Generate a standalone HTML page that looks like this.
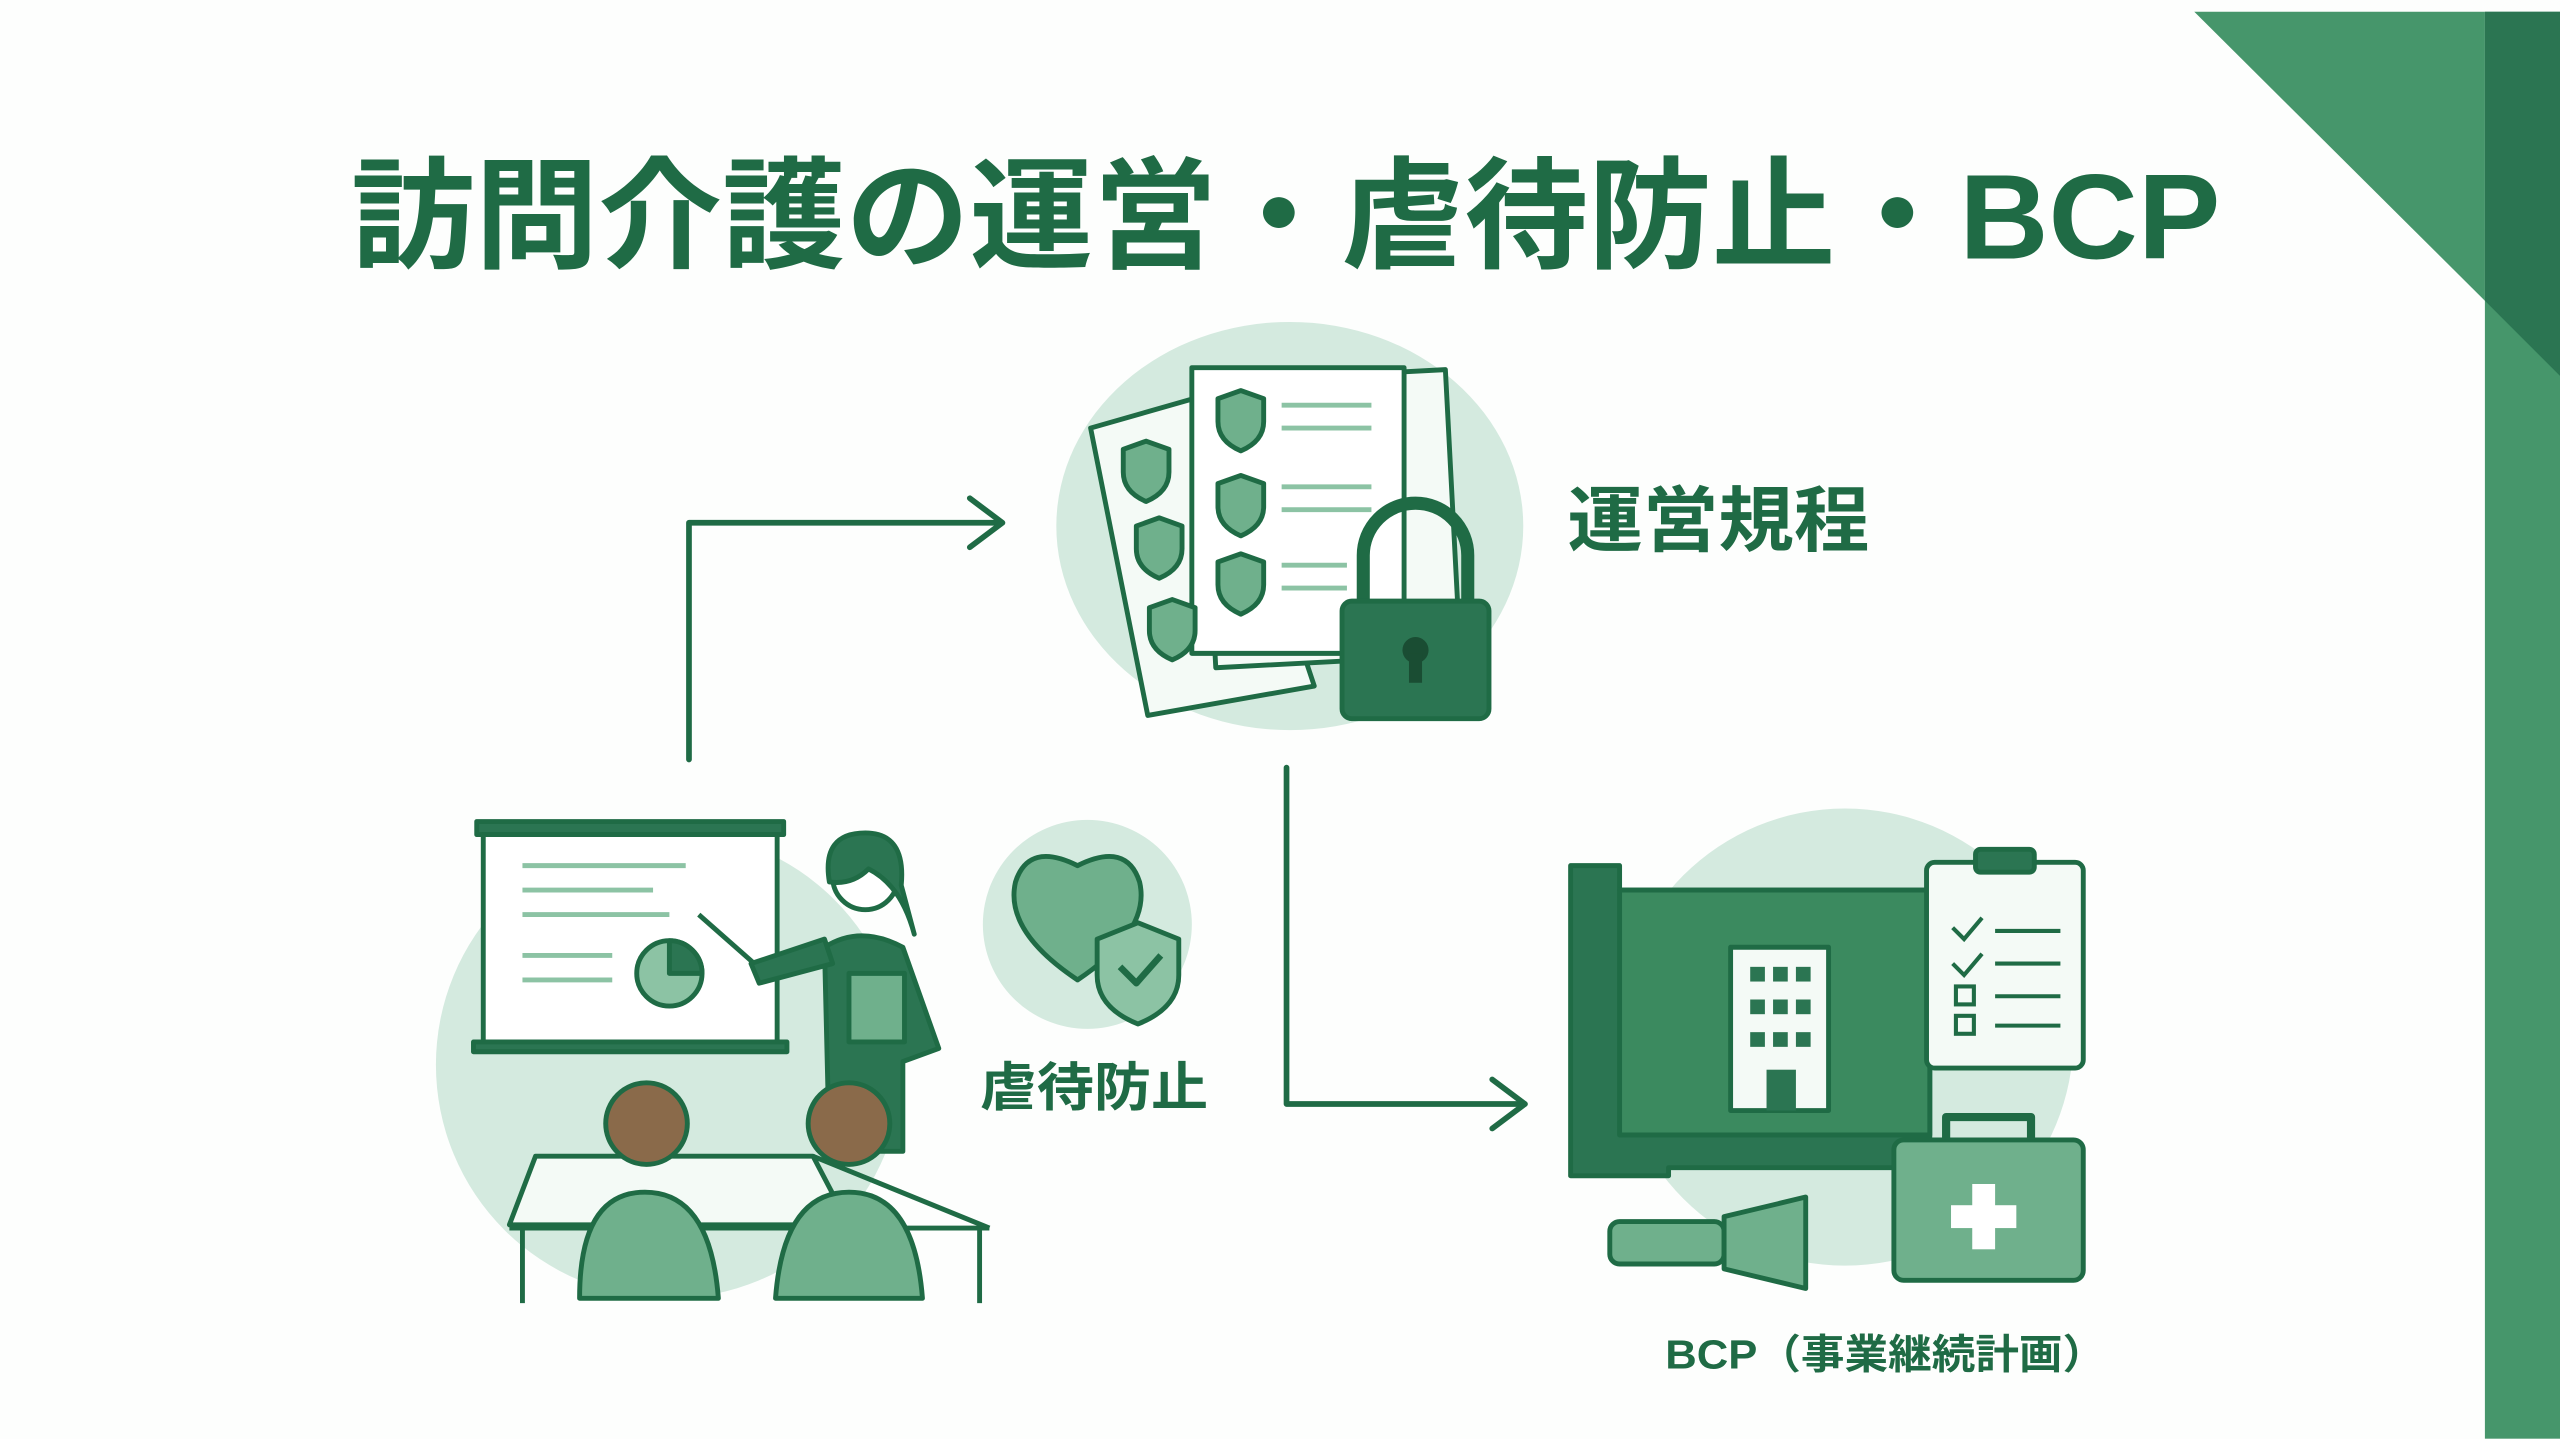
<!DOCTYPE html>
<html><head><meta charset="utf-8"><style>
html,body{margin:0;padding:0;background:#fdfefd;}
svg{display:block;}
text{font-family:"Liberation Sans","Noto Sans CJK JP",sans-serif;font-weight:bold;fill:#1f6b45;}
</style></head><body>
<svg width="2560" height="1439" viewBox="0 0 1568 881" xmlns="http://www.w3.org/2000/svg">
<rect width="1568" height="881" fill="#fdfefd"/>
<polygon points="1344,7 1522,7 1522,184" fill="#46966b"/>
<rect x="1522" y="7" width="46" height="874" fill="#46966b"/>
<polygon points="1522,7 1568,7 1568,230 1522,184" fill="#2b7552"/>
<text x="215" y="158" font-size="74" textLength="1145" lengthAdjust="spacingAndGlyphs">訪問介護の運営・虐待防止・BCP</text>
<ellipse cx="790" cy="322" rx="143" ry="125" fill="#d4eadf"/>
<circle cx="410" cy="652" r="143" fill="#d4eadf"/>
<circle cx="666" cy="566" r="64" fill="#d4eadf"/>
<circle cx="1130" cy="635" r="140" fill="#d4eadf"/>
<g stroke="#1f6b45" stroke-width="3.5" fill="none" stroke-linecap="round" stroke-linejoin="round">
<polyline points="422,465 422,320 612,320"/>
<polyline points="594,305 614,320 594,335"/>
<polyline points="788,470 788,676 934,676"/>
<polyline points="914,661 934,676 914,691"/>
</g>
<g stroke="#1f6b45" stroke-width="3" stroke-linejoin="round">
<polygon points="668,262 745,240 805,420 703,438" fill="#f4faf6"/>
<rect x="740" y="230" width="150" height="175" fill="#f4faf6" transform="rotate(-3 815 318)"/>
<rect x="730" y="225" width="130" height="175" fill="#fff"/>
<path d="M688,275 l14,-5 14,5 v14 q0,12 -14,18 q-14,-6 -14,-18z" fill="#6fb08c"/>
<path d="M696,322 l14,-5 14,5 v14 q0,12 -14,18 q-14,-6 -14,-18z" fill="#6fb08c"/>
<path d="M704,372 l14,-5 14,5 v14 q0,12 -14,18 q-14,-6 -14,-18z" fill="#6fb08c"/>
<path d="M746,244 l14,-5 14,5 v14 q0,12 -14,18 q-14,-6 -14,-18z" fill="#6fb08c"/>
<path d="M746,296 l14,-5 14,5 v14 q0,12 -14,18 q-14,-6 -14,-18z" fill="#6fb08c"/>
<path d="M746,344 l14,-5 14,5 v14 q0,12 -14,18 q-14,-6 -14,-18z" fill="#6fb08c"/>
<path d="M835,370 v-30 a32,32 0 0 1 64,0 v30" fill="none" stroke-width="8"/>
<rect x="822" y="368" width="90" height="72" rx="6" fill="#2b7552"/>
<circle cx="867" cy="398" r="8" fill="#1a4d33" stroke="none"/>
<rect x="863" y="400" width="8" height="18" fill="#1a4d33" stroke="none"/>
</g>
<g stroke="#8cc3a4" stroke-width="3">
<line x1="785" y1="248" x2="840" y2="248"/><line x1="785" y1="262" x2="840" y2="262"/>
<line x1="785" y1="298" x2="840" y2="298"/><line x1="785" y1="312" x2="840" y2="312"/>
<line x1="785" y1="346" x2="825" y2="346"/><line x1="785" y1="360" x2="825" y2="360"/>
</g>
<text x="960" y="334" font-size="44" textLength="185" lengthAdjust="spacingAndGlyphs">運営規程</text>
<g stroke="#1f6b45" stroke-width="3" stroke-linejoin="round">
<rect x="292" y="503" width="188" height="8" fill="#2b7552"/>
<rect x="296" y="511" width="180" height="130" fill="#fff"/>
<rect x="290" y="638" width="192" height="6" fill="#2b7552"/>
<circle cx="410" cy="596" r="20" fill="#8cc3a4"/>
<path d="M410,596 v-20 a20,20 0 0 1 20,20z" fill="#2b7552"/>
<line x1="428" y1="560" x2="462" y2="590"/>
<path d="M508,705 l-3,-125 q22,-14 48,0 l22,62 -22,8 v55z" fill="#2b7552"/>
<path d="M460,590 l45,-15 5,15 -45,12z" fill="#2b7552"/>
<circle cx="530" cy="537" r="20" fill="#fff"/>
<path d="M508,540 q-5,-30 22,-30 q25,0 22,32 l8,30 q-8,-30 -28,-40 q-10,10 -24,8z" fill="#2b7552"/>
<rect x="520" y="596" width="34" height="42" fill="#6fb08c"/>
<polygon points="328,708 498,708 520,750 312,750" fill="#f4faf6"/>
<line x1="320" y1="750" x2="320" y2="798"/><line x1="600" y1="750" x2="600" y2="798"/>
<line x1="312" y1="752" x2="606" y2="752"/><line x1="498" y1="708" x2="606" y2="752"/>
<circle cx="396" cy="688" r="25" fill="#8a6a4a"/>
<path d="M355,795 q0,-65 40,-65 q40,0 45,65z" fill="#6fb08c"/>
<circle cx="520" cy="688" r="25" fill="#8a6a4a"/>
<path d="M475,795 q5,-65 45,-65 q40,0 45,65z" fill="#6fb08c"/>
</g>
<g stroke="#8cc3a4" stroke-width="3">
<line x1="320" y1="530" x2="420" y2="530"/><line x1="320" y1="545" x2="400" y2="545"/>
<line x1="320" y1="560" x2="410" y2="560"/><line x1="320" y1="585" x2="375" y2="585"/>
<line x1="320" y1="600" x2="375" y2="600"/>
</g>
<g stroke="#1f6b45" stroke-width="3" stroke-linejoin="round">
<path d="M660,600 q-45,-30 -38,-60 q8,-25 38,-10 q30,-15 38,10 q7,30 -38,60z" fill="#6fb08c"/>
<path d="M672,575 l25,-10 25,10 v22 q0,20 -25,30 q-25,-10 -25,-30z" fill="#8cc3a4"/>
<polyline points="686,592 696,602 711,585" fill="none" stroke-width="4"/>
</g>
<text x="600" y="677" font-size="32" textLength="140" lengthAdjust="spacingAndGlyphs">虐待防止</text>
<g stroke="#1f6b45" stroke-width="3" stroke-linejoin="round">
<path d="M962,530 h30 v15 h190 v170 h-160 v5 h-60z" fill="#2b7552"/>
<rect x="992" y="545" width="190" height="150" fill="#3b8a5f"/>
<rect x="1060" y="580" width="60" height="100" fill="#f4faf6"/>
<rect x="1180" y="528" width="96" height="126" rx="5" fill="#f4faf6"/>
<rect x="1210" y="520" width="36" height="14" rx="3" fill="#2b7552"/>
<rect x="1160" y="698" width="116" height="86" rx="6" fill="#6fb08c"/>
<path d="M1192,698 v-14 h52 v14" fill="none" stroke-width="5"/>
<rect x="986" y="748" width="70" height="26" rx="6" fill="#6fb08c"/>
<path d="M1056,745 l50,-12 v56 l-50,-12z" fill="#6fb08c"/>
</g>
<g fill="#2b7552">
<rect x="1072" y="592" width="9" height="9"/><rect x="1086" y="592" width="9" height="9"/><rect x="1100" y="592" width="9" height="9"/>
<rect x="1072" y="612" width="9" height="9"/><rect x="1086" y="612" width="9" height="9"/><rect x="1100" y="612" width="9" height="9"/>
<rect x="1072" y="632" width="9" height="9"/><rect x="1086" y="632" width="9" height="9"/><rect x="1100" y="632" width="9" height="9"/>
<rect x="1082" y="655" width="18" height="25"/>
</g>
<g stroke="#1f6b45" stroke-width="2.5" fill="none">
<polyline points="1196,568 1203,575 1214,562"/><polyline points="1196,590 1203,597 1214,584"/>
<rect x="1198" y="604" width="11" height="11"/><rect x="1198" y="622" width="11" height="11"/>
<line x1="1222" y1="570" x2="1262" y2="570"/><line x1="1222" y1="590" x2="1262" y2="590"/>
<line x1="1222" y1="610" x2="1262" y2="610"/><line x1="1222" y1="628" x2="1262" y2="628"/>
</g>
<rect x="1208" y="725" width="14" height="40" fill="#fff"/><rect x="1195" y="738" width="40" height="14" fill="#fff"/>
<text x="1020" y="838" font-size="25" textLength="270" lengthAdjust="spacingAndGlyphs">BCP（事業継続計画）</text>
</svg>
</body></html>
